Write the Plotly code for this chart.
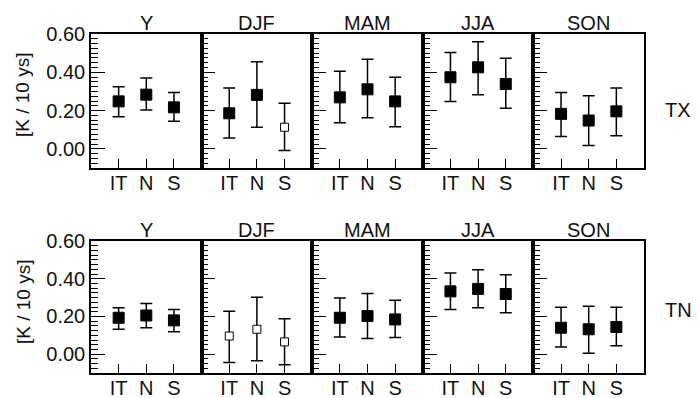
import plotly.graph_objects as go

W, H = 697, 398
L, R = 91, 53
PW = W - L - R

seasons = ["Y", "DJF", "MAM", "JJA", "SON"]
categories = ["IT", "N", "S"]
rows = ["TX", "TN"]

# TX: trend, upper bound, lower bound  [K / 10 ys]
tx_mean = [[0.248, 0.283, 0.217], [0.186, 0.282, 0.113], [0.269, 0.311, 0.248],
           [0.374, 0.426, 0.339], [0.183, 0.148, 0.196]]
tx_upper = [[0.325, 0.370, 0.295], [0.318, 0.455, 0.238], [0.405, 0.468, 0.374],
            [0.504, 0.560, 0.473], [0.295, 0.278, 0.318]]
tx_lower = [[0.168, 0.203, 0.144], [0.057, 0.113, -0.009], [0.137, 0.162, 0.116],
            [0.247, 0.282, 0.212], [0.064, 0.017, 0.069]]
tx_signif = [[1, 1, 1], [1, 1, 0], [1, 1, 1], [1, 1, 1], [1, 1, 1]]

# TN
tn_mean = [[0.193, 0.205, 0.179], [0.096, 0.132, 0.065], [0.193, 0.202, 0.184],
           [0.333, 0.346, 0.319], [0.140, 0.132, 0.144]]
tn_upper = [[0.246, 0.268, 0.237], [0.228, 0.302, 0.188], [0.298, 0.321, 0.286],
            [0.430, 0.447, 0.421], [0.249, 0.254, 0.249]]
tn_lower = [[0.132, 0.140, 0.119], [-0.044, -0.035, -0.056], [0.091, 0.083, 0.088],
            [0.237, 0.246, 0.219], [0.038, 0.005, 0.044]]
tn_signif = [[1, 1, 1], [0, 0, 0], [1, 1, 1], [1, 1, 1], [1, 1, 1]]

FONT = "Liberation Sans, Arial, Helvetica, sans-serif"
INK = "black"
TXT = "#111"
FS = 20

# row geometry in pixels (top, bottom), row-label centre, y-title centre
row_px = [(34, 168), (241, 373)]
row_label_y = [110, 310]
ytitle_y = [95, 302]

fig = go.Figure()
layout = dict(
    template="none",
    width=W, height=H, margin=dict(l=L, r=R, t=0, b=0, pad=0),
    paper_bgcolor="white", plot_bgcolor="rgba(0,0,0,0)", showlegend=False,
    font=dict(family=FONT, size=FS, color=TXT),
)
annotations = []

data_rows = [(tx_mean, tx_upper, tx_lower, tx_signif), (tn_mean, tn_upper, tn_lower, tn_signif)]

idx = 0
for r, (mean, upper, lower, signif) in enumerate(data_rows):
    top, bot = row_px[r]
    ydom = [1 - bot / H, 1 - top / H]
    for c, season in enumerate(seasons):
        idx += 1
        xa = "x" if idx == 1 else f"x{idx}"
        ya = "y" if idx == 1 else f"y{idx}"
        m = mean[c]
        plus = [u - v for u, v in zip(upper[c], m)]
        minus = [v - lo for v, lo in zip(m, lower[c])]
        fills = [INK if s else "white" for s in signif[c]]
        sizes = [11 if s else 8 for s in signif[c]]
        fig.add_trace(go.Scatter(
            x=categories, y=m, mode="markers", xaxis=xa, yaxis=ya,
            marker=dict(symbol="square", size=sizes, color=fills, opacity=1,
                        line=dict(color=INK, width=1)),
            error_y=dict(type="data", symmetric=False, array=plus, arrayminus=minus,
                         color=INK, thickness=1.5, width=6),
            cliponaxis=False, opacity=1,
        ))
        xd = [c / 5, (c + 1) / 5]
        layout["xaxis" + ("" if idx == 1 else str(idx))] = dict(
            domain=xd, anchor=ya, type="category", range=[-1, 3], automargin=False,
            ticks="inside", ticklen=9, tickwidth=1, tickcolor=INK,
            ticklabelstandoff=-4,
            showline=True, linecolor=INK, linewidth=1.5, mirror=True,
            showgrid=False, zeroline=False, fixedrange=True, layer="above traces",
            tickfont=dict(size=FS, color=TXT),
        )
        layout["yaxis" + ("" if idx == 1 else str(idx))] = dict(
            domain=ydom, anchor=xa, range=[-0.1, 0.6], automargin=False,
            tickmode="linear", tick0=0, dtick=0.2,
            tickformat=".2f", ticks="inside", ticklen=14, tickwidth=1, tickcolor=INK,
            minor=dict(dtick=0.025, tick0=0, ticks="inside", ticklen=7,
                       tickwidth=1, tickcolor=INK, showgrid=False),
            showticklabels=(c == 0),
            showline=True, linecolor=INK, linewidth=1.5, mirror=True,
            showgrid=False, zeroline=False, fixedrange=True, layer="above traces",
            tickfont=dict(size=FS, color=TXT),
        )
        # panel title
        annotations.append(dict(
            text=season, xref="paper", yref="paper",
            x=(xd[0] + xd[1]) / 2, y=1 - (top - 11) / H,
            xanchor="center", yanchor="middle", showarrow=False,
            font=dict(size=FS, color=TXT),
        ))
    # row label
    annotations.append(dict(
        text=rows[r], xref="paper", yref="paper",
        x=(678 - L) / PW, y=1 - row_label_y[r] / H,
        xanchor="center", yanchor="middle", showarrow=False,
        font=dict(size=FS, color=TXT),
    ))
    # y-axis title
    annotations.append(dict(
        text="[K / 10 ys]", xref="paper", yref="paper",
        x=(23 - L) / PW, y=1 - ytitle_y[r] / H,
        xanchor="center", yanchor="middle", showarrow=False, textangle=-90,
        font=dict(size=FS - 1, color=TXT),
    ))

layout["annotations"] = annotations
fig.update_layout(**layout)
fig.write_html("out.html")
